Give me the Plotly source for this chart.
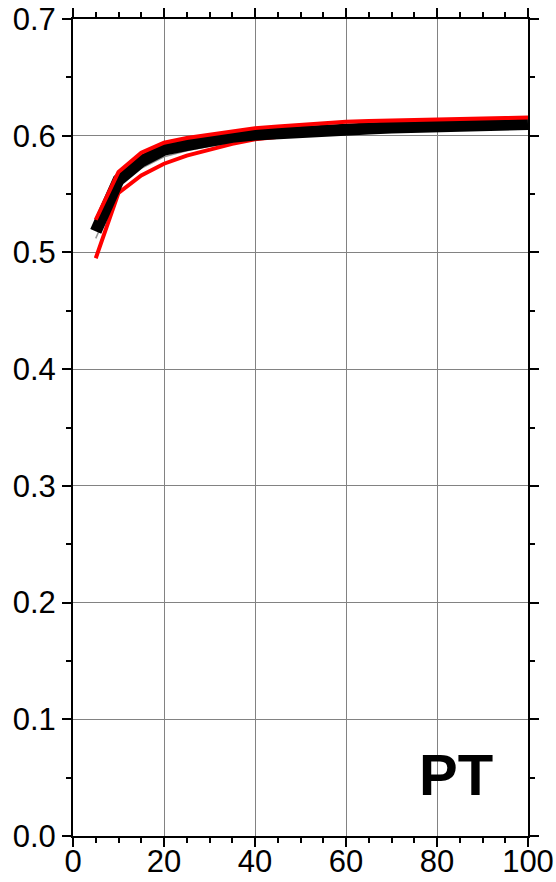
import plotly.graph_objects as go

x_vals = [5, 10, 15, 20, 25, 30, 35, 40, 45, 50, 55, 60, 65, 70, 75, 80, 85, 90, 95, 100]
mean_vals = [0.518, 0.562, 0.578, 0.588, 0.592, 0.596, 0.599, 0.601, 0.6025, 0.6035, 0.6045, 0.6055, 0.6062, 0.607, 0.6077, 0.6083, 0.6088, 0.6093, 0.6098, 0.610]
gray_vals = [0.512, 0.556, 0.572, 0.582, 0.587, 0.591, 0.594, 0.597, 0.5985, 0.600, 0.601, 0.602, 0.603, 0.604, 0.605, 0.6055, 0.606, 0.6065, 0.607, 0.6075]
upper_vals = [0.528, 0.569, 0.5855, 0.594, 0.598, 0.601, 0.604, 0.6065, 0.608, 0.6095, 0.611, 0.612, 0.6125, 0.613, 0.6138, 0.6145, 0.6148, 0.615, 0.6152, 0.6155]
lower_vals = [0.495, 0.551, 0.566, 0.576, 0.583, 0.588, 0.593, 0.597, 0.599, 0.601, 0.602, 0.603, 0.604, 0.605, 0.6057, 0.6063, 0.6068, 0.6073, 0.6078, 0.608]

x_ticks = [0, 20, 40, 60, 80, 100]
y_ticks = [0.0, 0.1, 0.2, 0.3, 0.4, 0.5, 0.6, 0.7]
y_tick_labels = ["0.0", "0.1", "0.2", "0.3", "0.4", "0.5", "0.6", "0.7"]
panel_label = "PT"

fig = go.Figure()
fig.add_trace(go.Scatter(x=x_vals, y=gray_vals, mode="lines",
                         line=dict(color="rgb(150,150,150)", width=1.5), showlegend=False))
fig.add_trace(go.Scatter(x=x_vals, y=lower_vals, mode="lines",
                         line=dict(color="red", width=4), showlegend=False))
fig.add_trace(go.Scatter(x=x_vals, y=mean_vals, mode="lines",
                         line=dict(color="black", width=12), showlegend=False))
fig.add_trace(go.Scatter(x=x_vals, y=upper_vals, mode="lines",
                         line=dict(color="red", width=4), showlegend=False))

fig.add_annotation(x=84.2, y=0.053, xref="x", yref="y", text="<b>" + panel_label + "</b>",
                   showarrow=False, font=dict(family="Liberation Sans", size=58, color="black"),
                   xanchor="center", yanchor="middle")

axis_common = dict(
    showline=True, linecolor="black", linewidth=2, mirror="allticks",
    ticks="outside", ticklen=9, tickwidth=1.5, tickcolor="black",
    showgrid=True, gridcolor="rgb(130,130,130)", gridwidth=1,
    zeroline=False, automargin=False,
    tickfont=dict(family="Liberation Sans", size=31, color="black"),
)

fig.update_xaxes(range=[0, 100], tickvals=x_ticks, ticklabelstandoff=-12,
                 minor=dict(dtick=5, tick0=0, ticks="outside", ticklen=5, tickcolor="black", tickwidth=1.5, showgrid=False),
                 **axis_common)
fig.update_yaxes(range=[0, 0.7], tickvals=y_ticks, ticktext=y_tick_labels,
                 minor=dict(dtick=0.05, tick0=0, ticks="outside", ticklen=5, tickcolor="black", tickwidth=1.5, showgrid=False),
                 **axis_common)

fig.update_layout(
    width=556, height=882,
    margin=dict(l=73, r=28, t=19, b=46),
    paper_bgcolor="white", plot_bgcolor="white",
    showlegend=False,
)

fig.write_html("out.html")
